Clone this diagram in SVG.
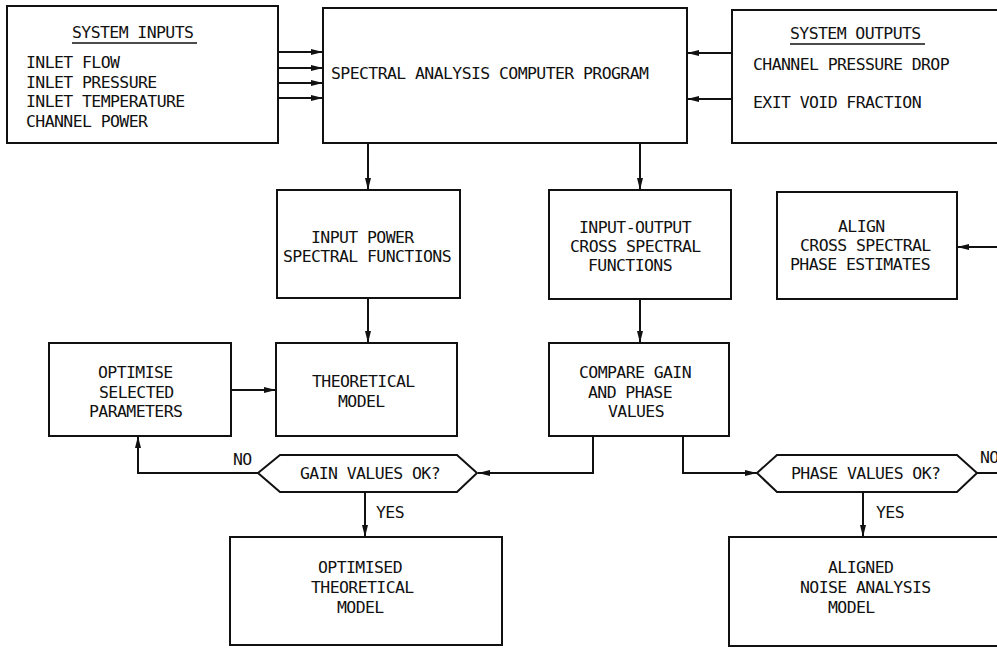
<svg xmlns="http://www.w3.org/2000/svg" width="997" height="649" viewBox="0 0 997 649">
<style>
.box{fill:#fff;stroke:#111;stroke-width:2}
.t{font-family:"DejaVu Sans Mono","Liberation Mono",monospace;font-size:16.5px;letter-spacing:-0.6px;fill:#111}
.c{fill:none;stroke:#111;stroke-width:2}
</style>
<defs>
<marker id="ah" markerUnits="userSpaceOnUse" markerWidth="14" markerHeight="8" refX="12" refY="4" orient="auto">
<path d="M0,1 L12,4 L0,7 z" fill="#111"/>
</marker>
</defs>
<rect width="997" height="649" fill="#fff"/>
<g id="connectors">
<line class="c" x1="278" y1="52" x2="323" y2="52" marker-end="url(#ah)"/>
<line class="c" x1="278" y1="68" x2="323" y2="68" marker-end="url(#ah)"/>
<line class="c" x1="278" y1="83" x2="323" y2="83" marker-end="url(#ah)"/>
<line class="c" x1="278" y1="98" x2="323" y2="98" marker-end="url(#ah)"/>
<line class="c" x1="732" y1="53" x2="687" y2="53" marker-end="url(#ah)"/>
<line class="c" x1="732" y1="99" x2="687" y2="99" marker-end="url(#ah)"/>
<line class="c" x1="368" y1="143" x2="368" y2="190" marker-end="url(#ah)"/>
<line class="c" x1="640" y1="143" x2="640" y2="190" marker-end="url(#ah)"/>
<line class="c" x1="997" y1="247" x2="957" y2="247" marker-end="url(#ah)"/>
<line class="c" x1="368" y1="298" x2="368" y2="343" marker-end="url(#ah)"/>
<line class="c" x1="640" y1="299" x2="640" y2="343" marker-end="url(#ah)"/>
<line class="c" x1="231" y1="390" x2="276" y2="390" marker-end="url(#ah)"/>
<polyline class="c" points="593,436 593,473 478,473" marker-end="url(#ah)"/>
<polyline class="c" points="683,436 683,473 757,473" marker-end="url(#ah)"/>
<polyline class="c" points="258,473 138,473 138,436" marker-end="url(#ah)"/>
<line class="c" x1="977" y1="473" x2="997" y2="473"/>
<line class="c" x1="365" y1="492" x2="365" y2="537" marker-end="url(#ah)"/>
<line class="c" x1="863" y1="492" x2="863" y2="537" marker-end="url(#ah)"/>
<text class="t" x="233" y="465">NO</text>
<text class="t" x="980" y="463">NO</text>
<text class="t" x="376" y="518">YES</text>
<text class="t" x="876" y="518">YES</text>
</g>
<g id="system-inputs">
<rect class="box" x="7" y="6" width="271" height="137"/>
<text class="t" x="72" y="38">SYSTEM INPUTS</text>
<line x1="72" y1="43" x2="197" y2="43" stroke="#111" stroke-width="1.5"/>
<text class="t" x="26" y="68">INLET FLOW</text>
<text class="t" x="26" y="88">INLET PRESSURE</text>
<text class="t" x="26" y="107">INLET TEMPERATURE</text>
<text class="t" x="26" y="127">CHANNEL POWER</text>
</g>
<g id="program">
<rect class="box" x="323" y="8" width="364" height="135"/>
<text class="t" x="331" y="79">SPECTRAL ANALYSIS COMPUTER PROGRAM</text>
</g>
<g id="system-outputs">
<rect class="box" x="732" y="10" width="280" height="133"/>
<text class="t" x="790" y="39">SYSTEM OUTPUTS</text>
<line x1="790" y1="44" x2="925" y2="44" stroke="#111" stroke-width="1.5"/>
<text class="t" x="753" y="70">CHANNEL PRESSURE DROP</text>
<text class="t" x="753" y="108">EXIT VOID FRACTION</text>
</g>
<g id="input-power">
<rect class="box" x="277" y="190" width="183" height="108"/>
<text class="t" x="311" y="243">INPUT POWER</text>
<text class="t" x="283" y="262">SPECTRAL FUNCTIONS</text>
</g>
<g id="cross-spectral">
<rect class="box" x="549" y="190" width="182" height="109"/>
<text class="t" x="579" y="233">INPUT-OUTPUT</text>
<text class="t" x="570" y="252">CROSS SPECTRAL</text>
<text class="t" x="588" y="271">FUNCTIONS</text>
</g>
<g id="align">
<rect class="box" x="777" y="192" width="180" height="107"/>
<text class="t" x="838" y="232">ALIGN</text>
<text class="t" x="800" y="251">CROSS SPECTRAL</text>
<text class="t" x="790" y="270">PHASE ESTIMATES</text>
</g>
<g id="optimise">
<rect class="box" x="49" y="343" width="182" height="93"/>
<text class="t" x="98" y="378">OPTIMISE</text>
<text class="t" x="99" y="398">SELECTED</text>
<text class="t" x="89" y="417">PARAMETERS</text>
</g>
<g id="theoretical">
<rect class="box" x="276" y="343" width="181" height="93"/>
<text class="t" x="312" y="387">THEORETICAL</text>
<text class="t" x="338" y="407">MODEL</text>
</g>
<g id="compare">
<rect class="box" x="549" y="343" width="180" height="93"/>
<text class="t" x="579" y="378">COMPARE GAIN</text>
<text class="t" x="588" y="398">AND PHASE</text>
<text class="t" x="608" y="417">VALUES</text>
</g>
<g id="gain-ok">
<polygon class="box" points="258,473 280,455 457,455 477,473 457,492 280,492"/>
<text class="t" x="300" y="479">GAIN VALUES OK?</text>
</g>
<g id="phase-ok">
<polygon class="box" points="757,473 777,455 957,455 977,473 957,492 777,492"/>
<text class="t" x="791" y="479">PHASE VALUES OK?</text>
</g>
<g id="optimised-model">
<rect class="box" x="230" y="537" width="272" height="108"/>
<text class="t" x="318" y="573">OPTIMISED</text>
<text class="t" x="311" y="593">THEORETICAL</text>
<text class="t" x="337" y="613">MODEL</text>
</g>
<g id="aligned-model">
<rect class="box" x="729" y="537" width="283" height="109"/>
<text class="t" x="828" y="573">ALIGNED</text>
<text class="t" x="800" y="593">NOISE ANALYSIS</text>
<text class="t" x="828" y="613">MODEL</text>
</g>
</svg>
